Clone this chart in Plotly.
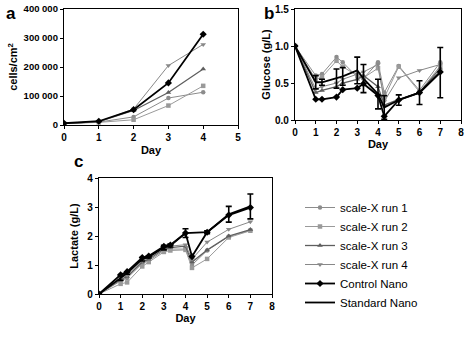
import plotly.graph_objects as go

# ---------------- data ----------------
# Panel a: cell density
days_a = [0, 1, 2, 3, 4]
a_run1 = [5000, 10000, 28000, 93000, 113000]
a_run2 = [5000, 9000, 18000, 67000, 135000]
a_run3 = [5000, 12000, 50000, 112000, 193000]
a_run4 = [5000, 11000, 55000, 205000, 278000]
a_control = [6000, 13000, 53000, 145000, 313000]

# Panel b: glucose
days_bc = [0, 1, 1.3, 2, 2.3, 3, 3.3, 4, 4.3, 5, 6, 7]
b_run1 = [1.0, 0.60, 0.62, 0.85, 0.78, 0.58, 0.56, 0.78, 0.37, 0.73, 0.40, 0.78]
b_run2 = [1.0, 0.55, 0.58, 0.80, 0.72, 0.60, 0.57, 0.70, 0.30, 0.72, 0.38, 0.73]
b_run3 = [1.0, 0.37, 0.40, 0.45, 0.50, 0.55, 0.60, 0.45, 0.20, 0.28, 0.37, 0.70]
b_run4 = [1.0, 0.42, 0.45, 0.50, 0.55, 0.62, 0.65, 0.75, 0.25, 0.57, 0.67, 0.75]
b_control = [1.0, 0.28, 0.28, 0.31, 0.41, 0.43, 0.49, 0.33, 0.05, 0.27, 0.37, 0.65]
b_standard = [1.0, 0.51, 0.51, 0.56, 0.59, 0.67, 0.56, 0.35, 0.17, 0.27, 0.37, 0.64]
b_standard_err = [0, 0.09, 0.04, 0.13, 0.12, 0.18, 0.19, 0.20, 0.16, 0.07, 0.16, 0.34]

# Panel c: lactate
c_run1 = [0, 0.45, 0.55, 1.05, 1.15, 1.50, 1.55, 1.55, 1.00, 1.50, 1.98, 2.20]
c_run2 = [0, 0.35, 0.40, 0.95, 1.10, 1.45, 1.50, 1.52, 0.90, 1.21, 1.95, 2.18]
c_run3 = [0, 0.50, 0.60, 1.10, 1.20, 1.55, 1.60, 1.65, 1.10, 1.52, 2.00, 2.22]
c_run4 = [0, 0.55, 0.65, 1.15, 1.25, 1.60, 1.65, 1.70, 1.20, 1.79, 2.23, 2.49]
c_control = [0, 0.66, 0.77, 1.26, 1.31, 1.64, 1.69, 2.10, 1.29, 2.13, 2.72, 2.98]
days_c_std = [0, 1, 1.3, 2, 2.3, 3, 3.3, 4, 5, 6, 7]
c_standard = [0, 0.55, 0.72, 1.20, 1.28, 1.60, 1.67, 2.10, 2.13, 2.75, 3.02]
c_standard_err = [0, 0.08, 0.04, 0.06, 0.04, 0.08, 0.05, 0.15, 0.05, 0.27, 0.43]

names = ["scale-X run 1", "scale-X run 2", "scale-X run 3", "scale-X run 4",
         "Control Nano", "Standard Nano"]

# ---------------- styles ----------------
FONT = "Liberation Sans, Arial, sans-serif"
run_styles = [
    dict(color="#8c8c8c", symbol="circle", width=1.0, size=4.5),
    dict(color="#9a9a9a", symbol="square", width=1.0, size=4.5),
    dict(color="#5e5e5e", symbol="triangle-up", width=1.3, size=5),
    dict(color="#888888", symbol="triangle-down", width=1.0, size=5),
]

fig = go.Figure()


def add_run(x, y, i, xa, ya, show):
    s = run_styles[i]
    fig.add_trace(go.Scatter(
        x=x, y=y, name=names[i], mode="lines+markers", xaxis=xa, yaxis=ya,
        line=dict(color=s["color"], width=s["width"]),
        marker=dict(symbol=s["symbol"], size=s["size"], color=s["color"]),
        showlegend=show, legendrank=i + 1))


def add_control(x, y, xa, ya, show):
    fig.add_trace(go.Scatter(
        x=x, y=y, name=names[4], mode="lines+markers", xaxis=xa, yaxis=ya,
        line=dict(color="black", width=1.8),
        marker=dict(symbol="diamond", size=5.5, color="black"),
        showlegend=show, legendrank=5))


def add_standard(x, y, err, xa, ya, show):
    fig.add_trace(go.Scatter(
        x=x, y=y, name=names[5], mode="lines", xaxis=xa, yaxis=ya,
        line=dict(color="black", width=1.8),
        error_y=dict(type="data", array=err, visible=True, color="black",
                     thickness=1.6, width=3),
        showlegend=show, legendrank=6))


# Panel a
for i, ys in enumerate([a_run1, a_run2, a_run3, a_run4]):
    add_run(days_a, ys, i, "x", "y", False)
add_control(days_a, a_control, "x", "y", False)

# Panel b
for i, ys in enumerate([b_run1, b_run2, b_run3, b_run4]):
    add_run(days_bc, ys, i, "x2", "y2", False)
add_control(days_bc, b_control, "x2", "y2", False)
add_standard(days_bc, b_standard, b_standard_err, "x2", "y2", False)

# Panel c
for i, ys in enumerate([c_run1, c_run2, c_run3, c_run4]):
    add_run(days_bc, ys, i, "x3", "y3", True)
add_control(days_bc, c_control, "x3", "y3", True)
add_standard(days_c_std, c_standard, c_standard_err, "x3", "y3", True)

tickfont = dict(family=FONT, size=10, color="black", weight="bold")
titlefont = dict(family=FONT, size=11, color="black", weight="bold")

axis_common = dict(showline=True, linecolor="black", linewidth=1.3, mirror=True,
                   ticks="outside", ticklen=3, tickwidth=1.2, tickcolor="black",
                   showgrid=False, zeroline=False, tickfont=tickfont,
                   automargin=False)

W, H = 476, 338


def xd(l, r):
    return [l / W, r / W]


def yd(top, bottom):
    return [1 - bottom / H, 1 - top / H]


fig.update_layout(
    width=W, height=H,
    margin=dict(l=0, r=0, t=0, b=0),
    paper_bgcolor="white", plot_bgcolor="white",
    font=dict(family=FONT, color="black"),
    xaxis=dict(axis_common, domain=xd(64, 238), range=[0, 5], dtick=1, anchor="y",
               title=dict(text="Day", font=titlefont, standoff=4)),
    yaxis=dict(axis_common, domain=yd(9, 125), range=[0, 400000], anchor="x",
               tickvals=[0, 100000, 200000, 300000, 400000],
               ticktext=["0", "100 000", "200 000", "300 000", "400 000"],
               tickfont=dict(tickfont, size=9.5),
               title=dict(text="cells/cm<sup>2</sup>", font=titlefont, standoff=3)),
    xaxis2=dict(axis_common, domain=xd(295, 461), range=[0, 8], dtick=1, anchor="y2",
                title=dict(text="Day", font=titlefont, standoff=2)),
    yaxis2=dict(axis_common, domain=yd(9, 120), range=[0, 1.5], dtick=0.5,
                tickformat=".1f", anchor="x2",
                title=dict(text="Glucose (g/L)", font=titlefont, standoff=2)),
    xaxis3=dict(axis_common, domain=xd(99, 272), range=[0, 8], dtick=1, anchor="y3",
                title=dict(text="Day", font=titlefont, standoff=3)),
    yaxis3=dict(axis_common, domain=yd(178, 294), range=[0, 4], dtick=1, anchor="x3",
                title=dict(text="Lactate (g/L)", font=titlefont, standoff=6)),
    legend=dict(x=300 / W, y=1 - 193 / H, xanchor="left", yanchor="top",
                font=dict(family=FONT, size=11.5, color="black"),
                bgcolor="rgba(0,0,0,0)", traceorder="normal", itemwidth=30),
    showlegend=True,
    annotations=[
        dict(text="a", x=4 / W, y=1 - 2 / H, xref="paper", yref="paper",
             xanchor="left", yanchor="top", showarrow=False,
             font=dict(family=FONT, size=17, weight="bold")),
        dict(text="b", x=262 / W, y=1 - 2 / H, xref="paper", yref="paper",
             xanchor="left", yanchor="top", showarrow=False,
             font=dict(family=FONT, size=17, weight="bold")),
        dict(text="c", x=72 / W, y=1 - 150 / H, xref="paper", yref="paper",
             xanchor="left", yanchor="top", showarrow=False,
             font=dict(family=FONT, size=17, weight="bold")),
    ],
)

fig.write_html("out.html")
